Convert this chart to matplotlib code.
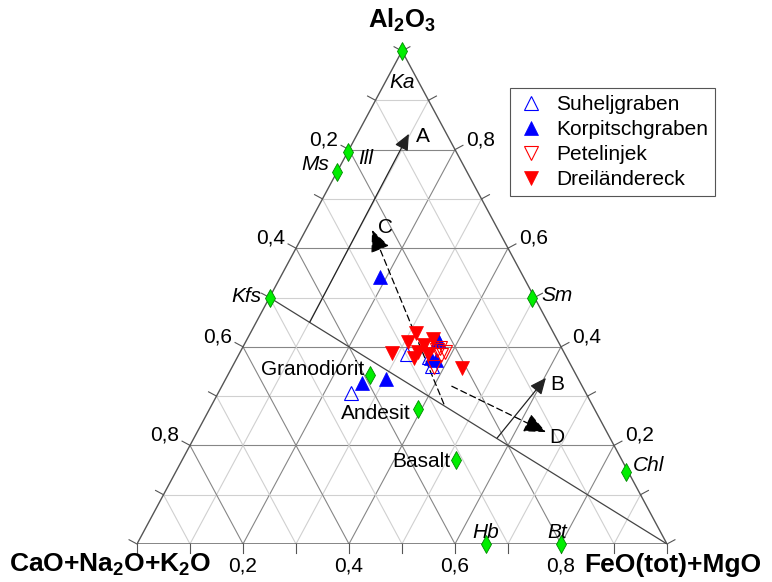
import matplotlib.pyplot as plt
import numpy as np

plt.rcParams["font.family"] = ["Liberation Sans", "DejaVu Sans"]
plt.rcParams["mathtext.fontset"] = "custom"
plt.rcParams["mathtext.rm"] = "Liberation Sans"
plt.rcParams["mathtext.bf"] = "Liberation Sans:bold"
plt.rcParams["mathtext.it"] = "Liberation Sans:italic"

# compositions as fractions: Al2O3 (top) and FeO(tot)+MgO (right);
# CaO+Na2O+K2O (left) is the remainder
suhelj_al = [0.306, 0.385, 0.412, 0.361, 0.379]
suhelj_fm = [0.251, 0.317, 0.362, 0.376, 0.361]

korp_al = [0.542, 0.327, 0.335, 0.414, 0.377, 0.373]
korp_fm = [0.188, 0.261, 0.302, 0.361, 0.366, 0.377]

petel_al = [0.398, 0.398, 0.389, 0.383, 0.359, 0.394]
petel_fm = [0.356, 0.373, 0.386, 0.382, 0.380, 0.369]

drei_al = [0.428, 0.410, 0.387, 0.389, 0.377, 0.416, 0.385, 0.357, 0.404]
drei_fm = [0.312, 0.306, 0.288, 0.335, 0.334, 0.351, 0.356, 0.434, 0.340]

minerals = ["Ka", "Ill", "Ms", "Kfs", "Sm", "Chl", "Hb", "Bt"]
mineral_al = [1.0, 0.795, 0.755, 0.50, 0.50, 0.146, 0.0, 0.0]
mineral_fm = [0.0, 0.0, 0.0, 0.0, 0.495, 0.849, 0.658, 0.80]

rocks = ["Granodiorit", "Andesit", "Basalt"]
rock_al = [0.343, 0.274, 0.170]
rock_fm = [0.268, 0.393, 0.517]

# weathering trends: start (al, fm) -> end (al, fm)
trends = ["A", "B", "C", "D"]
trend_start_al = [0.450, 0.215, 0.284, 0.320]
trend_start_fm = [0.101, 0.572, 0.437, 0.434]
trend_end_al = [0.832, 0.337, 0.637, 0.227]
trend_end_fm = [0.097, 0.603, 0.125, 0.658]

tick_values = [0.2, 0.4, 0.6, 0.8]


def tern(al, fm):
    al = np.asarray(al, dtype=float)
    fm = np.asarray(fm, dtype=float)
    return fm + al / 2, al


W, H = 772, 582
fig = plt.figure(figsize=(W / 100, H / 100), dpi=100)
# triangle spans 137..667 px horizontally, 544..51 px vertically
ax = fig.add_axes([137 / W, (H - 544) / H, 530 / W, 493 / H])
ax.set_xlim(0, 1)
ax.set_ylim(0, 1)
ax.axis("off")
px, py = 1 / 530, 1 / 493  # one pixel in data units

# grid
for i in range(1, 10):
    v = i / 10
    col = "#868686" if i % 2 == 0 else "#d0d0d0"
    kw = dict(color=col, lw=0.8, zorder=1)
    # constant Al2O3
    ax.plot(*zip(tern(v, 0), tern(v, 1 - v)), **kw)
    # constant FeO+MgO
    ax.plot(*zip(tern(0, v), tern(1 - v, v)), **kw)
    # constant CaO+Na2O+K2O
    ax.plot(*zip(tern(0, 1 - v), tern(1 - v, 0)), **kw)

# frame
ax.plot([0, 1, 0.5, 0], [0, 0, 1, 0], color="#555555", lw=1.0, zorder=2)

# ticks, perpendicular to the edges
tl = 9
nl = np.array([-493, 265]) / np.hypot(493, 265)
nr = np.array([493, 265]) / np.hypot(493, 265)
for i in range(11):
    v = i / 10
    x, y = tern(0, v)
    ax.plot([x, x], [y, y - tl * py], color="#555555", lw=0.8, clip_on=False)
    x, y = tern(1 - v, 0)
    ax.plot([x, x + nl[0] * tl * px], [y, y + nl[1] * tl * py], color="#555555", lw=0.8, clip_on=False)
    x, y = tern(v, 1 - v)
    ax.plot([x, x + nr[0] * tl * px], [y, y + nr[1] * tl * py], color="#555555", lw=0.8, clip_on=False)

fs = 15
for v in tick_values:
    lab = f"{v:.1f}".replace(".", ",")
    x, y = tern(0, v)
    ax.annotate(lab, (x, y), xytext=(0, -22), textcoords="offset pixels",
                ha="center", va="center", fontsize=fs)
    x, y = tern(1 - v, 0)
    ax.annotate(lab, (x, y), xytext=(-11, 10), textcoords="offset pixels",
                ha="right", va="center", fontsize=fs)
    x, y = tern(v, 1 - v)
    ax.annotate(lab, (x, y), xytext=(11, 10), textcoords="offset pixels",
                ha="left", va="center", fontsize=fs)

# axis titles
fig.text(402 / W, 1 - 20 / H, r"$\mathbf{Al}_\mathbf{2}\mathbf{O}_\mathbf{3}$",
         ha="center", va="center", fontsize=18.5)
fig.text(110 / W, 1 - 565 / H, r"$\mathbf{CaO{+}Na}_\mathbf{2}\mathbf{O{+}K}_\mathbf{2}\mathbf{O}$",
         ha="center", va="center", fontsize=19)
fig.text(673 / W, 1 - 565 / H, "FeO(tot)+MgO", ha="center", va="center",
         fontsize=19, fontweight="bold")

# Kfs - FeO+MgO reference line
ax.plot(*zip(tern(0.5, 0), tern(0, 1)), color="#444444", lw=0.9, zorder=2)

# trend arrows
arrow_style = {"A": ("-", 11), "B": ("-", 11), "C": ((0, (5, 3)), 15), "D": ((0, (5, 3)), 15)}
label_off = {"A": (14, -3), "B": (11, -7), "C": (13, 2), "D": (11, -5)}
for name, sa, sf, ea, ef in zip(trends, trend_start_al, trend_start_fm, trend_end_al, trend_end_fm):
    ls, ms = arrow_style[name]
    col = "#222222" if ls == "-" else "black"
    ax.annotate("", xy=tern(ea, ef), xytext=tern(sa, sf),
                arrowprops=dict(arrowstyle="-|>,head_length=0.9,head_width=0.4",
                                mutation_scale=ms, color=col, lw=0.9, linestyle=ls,
                                shrinkA=0, shrinkB=0),
                zorder=3)
    ax.annotate(name, tern(ea, ef), xytext=label_off[name], textcoords="offset pixels",
                ha="center", va="center", fontsize=fs)

# minerals and rocks
diamond = dict(marker="d", ms=9, mfc="#00ee00", mec="#008800", mew=0.6, ls="none", zorder=5, clip_on=False)
ax.plot(*tern(mineral_al, mineral_fm), **diamond)
ax.plot(*tern(rock_al, rock_fm), **diamond)

mineral_off = {"Ka": (0, -31, "center"), "Ill": (10, -6, "left"), "Ms": (-8, 7, "right"),
               "Kfs": (-8, 1, "right"), "Sm": (10, 2, "left"), "Chl": (7, 7, "left"),
               "Hb": (0, 12, "center"), "Bt": (-4, 12, "center")}
for name, a, f in zip(minerals, mineral_al, mineral_fm):
    ox, oy, ha = mineral_off[name]
    ax.annotate(name, tern(a, f), xytext=(ox, oy), textcoords="offset pixels",
                ha=ha, va="center", fontsize=fs, style="italic")

rock_off = {"Granodiorit": (-6, 5), "Andesit": (-7, -5), "Basalt": (-6, -1)}
for name, a, f in zip(rocks, rock_al, rock_fm):
    ax.annotate(name, tern(a, f), xytext=rock_off[name], textcoords="offset pixels",
                ha="right", va="center", fontsize=fs)

# samples
tri = dict(ms=9.5, ls="none", zorder=6)
h1, = ax.plot(*tern(suhelj_al, suhelj_fm), marker="^", mfc="none", mec="#0000ff", mew=0.8, label="Suheljgraben", **tri)
h2, = ax.plot(*tern(korp_al, korp_fm), marker="^", mfc="#0000ff", mec="#0000ff", mew=0.5, label="Korpitschgraben", **tri)
h3, = ax.plot(*tern(petel_al, petel_fm), marker="v", mfc="none", mec="#ff0000", mew=0.8, label="Petelinjek", **tri)
h4, = ax.plot(*tern(drei_al, drei_fm), marker="v", mfc="#ff0000", mec="#ff0000", mew=0.5, label="Dreiländereck", **tri)

leg = fig.legend(handles=[h1, h2, h3, h4], loc="upper left",
                 bbox_to_anchor=(510 / W, 1 - 88 / H), borderaxespad=0,
                 fontsize=fs, frameon=True, fancybox=False, framealpha=1,
                 edgecolor="#555555", borderpad=0.35, labelspacing=0.28,
                 handlelength=1.3, handletextpad=0.55)
leg.get_frame().set_linewidth(0.8)

fig.savefig("out.png", dpi=100)
